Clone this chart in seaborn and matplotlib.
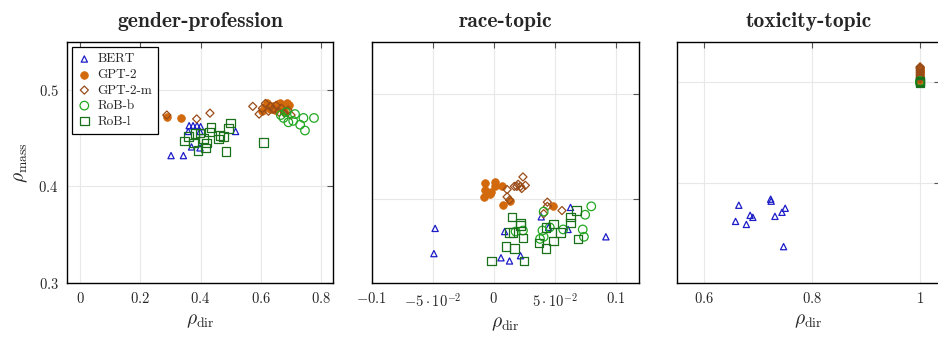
import matplotlib
matplotlib.use("Agg")
import matplotlib.pyplot as plt
import seaborn as sns
import numpy as np

# ---------------- data ----------------
models = ["BERT", "GPT-2", "GPT-2-m", "RoB-b", "RoB-l"]
panel_titles = ["gender-profession", "race-topic", "toxicity-topic"]

# gender-profession
gp_bert_x = [0.302, 0.343, 0.362, 0.375, 0.388, 0.400, 0.359, 0.398, 0.516, 0.370, 0.398]
gp_bert_y = [0.432, 0.432, 0.463, 0.463, 0.463, 0.462, 0.457, 0.457, 0.457, 0.441, 0.440]
gp_gpt2_x = [0.288, 0.335, 0.603, 0.612, 0.621, 0.630, 0.640, 0.648, 0.655, 0.663, 0.669, 0.676, 0.686, 0.694]
gp_gpt2_y = [0.472, 0.471, 0.478, 0.482, 0.487, 0.480, 0.483, 0.479, 0.485, 0.486, 0.481, 0.478, 0.486, 0.484]
gp_gpt2m_x = [0.288, 0.387, 0.431, 0.573, 0.594, 0.605, 0.615, 0.625, 0.632, 0.640, 0.650, 0.660, 0.668, 0.678, 0.690, 0.700]
gp_gpt2m_y = [0.474, 0.470, 0.476, 0.483, 0.475, 0.481, 0.486, 0.478, 0.483, 0.480, 0.484, 0.477, 0.481, 0.476, 0.479, 0.474]
gp_robb_x = [0.666, 0.675, 0.691, 0.707, 0.713, 0.730, 0.741, 0.746, 0.776, 0.683]
gp_robb_y = [0.474, 0.471, 0.4665, 0.468, 0.475, 0.464, 0.471, 0.458, 0.471, 0.477]
gp_robl_x = [0.434, 0.500, 0.492, 0.464, 0.459, 0.359, 0.346, 0.381, 0.398, 0.409, 0.420, 0.417, 0.392, 0.484, 0.608, 0.429, 0.376, 0.475]
gp_robl_y = [0.461, 0.466, 0.460, 0.453, 0.449, 0.452, 0.447, 0.455, 0.4555, 0.450, 0.445, 0.440, 0.4375, 0.436, 0.4455, 0.4565, 0.445, 0.4515]

# race-topic
rt_bert_x = [-0.048, -0.049, 0.009, 0.006, 0.013, 0.022, 0.039, 0.045, 0.061, 0.063, 0.092]
rt_bert_y = [0.372, 0.348, 0.369, 0.344, 0.341, 0.346, 0.383, 0.373, 0.371, 0.392, 0.364]
rt_gpt2_x = [-0.008, -0.007, -0.007, -0.002, 0.001, 0.001, 0.007, 0.008, 0.013, 0.049, -0.003]
rt_gpt2_y = [0.402, 0.415, 0.409, 0.407, 0.416, 0.412, 0.412, 0.394, 0.398, 0.393, 0.405]
rt_gpt2m_x = [0.024, 0.026, 0.019, 0.011, 0.011, 0.013, 0.017, 0.022, 0.044, 0.044, 0.056, 0.041, 0.020, 0.023]
rt_gpt2m_y = [0.421, 0.413, 0.412, 0.409, 0.402, 0.399, 0.412, 0.412, 0.397, 0.393, 0.389, 0.386, 0.414, 0.410]
rt_robb_x = [0.041, 0.080, 0.075, 0.073, 0.074, 0.057, 0.040, 0.038, 0.024, 0.018, 0.041, 0.046]
rt_robb_y = [0.388, 0.393, 0.385, 0.371, 0.364, 0.371, 0.370, 0.362, 0.370, 0.369, 0.364, 0.373]
rt_robl_x = [0.015, 0.022, 0.022, 0.016, 0.013, 0.024, 0.010, 0.017, -0.002, 0.025, 0.037, 0.043, 0.049, 0.043, 0.049, 0.055, 0.063, 0.063, 0.068, 0.069]
rt_robl_y = [0.383, 0.377, 0.375, 0.368, 0.368, 0.363, 0.355, 0.353, 0.341, 0.341, 0.358, 0.353, 0.360, 0.373, 0.376, 0.368, 0.377, 0.383, 0.389, 0.362]

# toxicity-topic
tt_bert_x = [0.664, 0.658, 0.678, 0.685, 0.690, 0.723, 0.724, 0.731, 0.744, 0.750, 0.747]
tt_bert_y = [0.378, 0.362, 0.359, 0.368, 0.366, 0.384, 0.382, 0.367, 0.371, 0.375, 0.337]
tt_gpt2_x = [1.0, 1.0, 1.0, 1.0, 1.0, 1.0, 1.0, 1.0]
tt_gpt2_y = [0.500, 0.503, 0.505, 0.507, 0.509, 0.511, 0.512, 0.514]
tt_gpt2m_x = [1.0, 1.0, 1.0, 1.0, 1.0, 1.0, 1.0, 1.0]
tt_gpt2m_y = [0.503, 0.505, 0.507, 0.509, 0.511, 0.513, 0.514, 0.515]
tt_robb_x = [1.0, 1.0, 1.0]
tt_robb_y = [0.499, 0.500, 0.501]
tt_robl_x = [1.0, 1.0, 1.0]
tt_robl_y = [0.499, 0.500, 0.501]

gp_xticks = [0, 0.2, 0.4, 0.6, 0.8]
gp_xticklabels = ["$0$", "$0.2$", "$0.4$", "$0.6$", "$0.8$"]
rt_xticks = [-0.1, -0.05, 0, 0.05, 0.1]
rt_xticklabels = ["$-0.1$", r"$-5\cdot10^{-2}$", "$0$", r"$5\cdot10^{-2}$", "$0.1$"]
tt_xticks = [0.6, 0.8, 1.0]
tt_xticklabels = ["$0.6$", "$0.8$", "$1$"]
yticks = [0.3, 0.4, 0.5]
yticklabels = ["$0.3$", "$0.4$", "$0.5$"]

# ---------------- style ----------------
sns.set_style("white")
plt.rcParams["font.family"] = ["cmr10", "DejaVu Serif"]
plt.rcParams["mathtext.fontset"] = "cm"
plt.rcParams["axes.unicode_minus"] = False

colors = {"BERT": "#1c1cc8", "GPT-2": "#d2690c", "GPT-2-m": "#9a4c18",
          "RoB-b": "#22a822", "RoB-l": "#1b701b"}
markers = {"BERT": "^", "GPT-2": "o", "GPT-2-m": "D", "RoB-b": "o", "RoB-l": "s"}
sizes = {"BERT": 20, "GPT-2": 30, "GPT-2-m": 17, "RoB-b": 38, "RoB-l": 38}
filled = {"BERT": False, "GPT-2": True, "GPT-2-m": False, "RoB-b": False, "RoB-l": False}

panels = [
    [(gp_bert_x, gp_bert_y), (gp_gpt2_x, gp_gpt2_y), (gp_gpt2m_x, gp_gpt2m_y), (gp_robb_x, gp_robb_y), (gp_robl_x, gp_robl_y)],
    [(rt_bert_x, rt_bert_y), (rt_gpt2_x, rt_gpt2_y), (rt_gpt2m_x, rt_gpt2m_y), (rt_robb_x, rt_robb_y), (rt_robl_x, rt_robl_y)],
    [(tt_bert_x, tt_bert_y), (tt_gpt2_x, tt_gpt2_y), (tt_gpt2m_x, tt_gpt2m_y), (tt_robb_x, tt_robb_y), (tt_robl_x, tt_robl_y)],
]

fig = plt.figure(figsize=(9.38, 3.37), dpi=100)
W, H = 938.0, 337.0
boxes = [(67, 333), (371.7, 639.3), (677.3, 939.5)]
top_px, bot_px = 42, 283
axes = []
for (l, r) in boxes:
    ax = fig.add_axes([l / W, 1 - bot_px / H, (r - l) / W, (bot_px - top_px) / H])
    axes.append(ax)

xlims = [(-0.043, 0.839), (-0.1, 0.1194), (0.55, 1.036)]
ylims = [(0.3, 0.5497), (0.32, 0.5495), (0.301, 0.5396)]
xt = [(gp_xticks, gp_xticklabels), (rt_xticks, rt_xticklabels), (tt_xticks, tt_xticklabels)]

for i, ax in enumerate(axes):
    for m, (xs, ys) in zip(models, panels[i]):
        c = colors[m]
        if filled[m]:
            sns.scatterplot(x=xs, y=ys, ax=ax, marker=markers[m], s=sizes[m],
                            color=c, edgecolor=c, linewidth=0.6, label=m, zorder=3)
        else:
            sns.scatterplot(x=xs, y=ys, ax=ax, marker=markers[m], s=sizes[m],
                            color=c, facecolor="none", edgecolor=c, linewidth=0.9,
                            label=m, zorder=3)
    ax.set_xticks(xt[i][0])
    ax.set_xticklabels(xt[i][1])
    ax.set_yticks(yticks)
    if i == 0:
        ax.set_yticklabels(yticklabels)
        ax.set_ylabel(r"$\rho_{\mathrm{mass}}$", fontsize=14, labelpad=6)
    else:
        ax.set_yticklabels([])
    # limits after ticks (set_ticks may expand the view)
    ax.set_xlim(*xlims[i])
    ax.set_ylim(*ylims[i])
    ax.set_xlabel(r"$\rho_{\mathrm{dir}}$", fontsize=14, labelpad=4)
    ax.grid(True, color="#e8e8e8", linewidth=0.8, zorder=0)
    ax.set_axisbelow(True)
    ax.tick_params(direction="in", length=4, width=0.8, color="#555555",
                   top=True, right=True, labelsize=10.5, pad=6)
    for sp in ax.spines.values():
        sp.set_color("black")
        sp.set_linewidth(1.0)
    ax.set_title(panel_titles[i], family="cmb10", fontsize=15.5, pad=11)
    leg = ax.get_legend()
    if leg is not None:
        leg.remove()

# legend in first panel
handles, labels = axes[0].get_legend_handles_labels()
leg = axes[0].legend(handles[:5], labels[:5], loc="upper left",
                     bbox_to_anchor=(0.018, 0.978), borderaxespad=0,
                     frameon=True, fancybox=False, edgecolor="black",
                     framealpha=1, fontsize=9.5, labelspacing=0.25,
                     handletextpad=0.5, handlelength=1.0, borderpad=0.45)
leg.get_frame().set_linewidth(0.9)

fig.savefig("out.png", dpi=100)
